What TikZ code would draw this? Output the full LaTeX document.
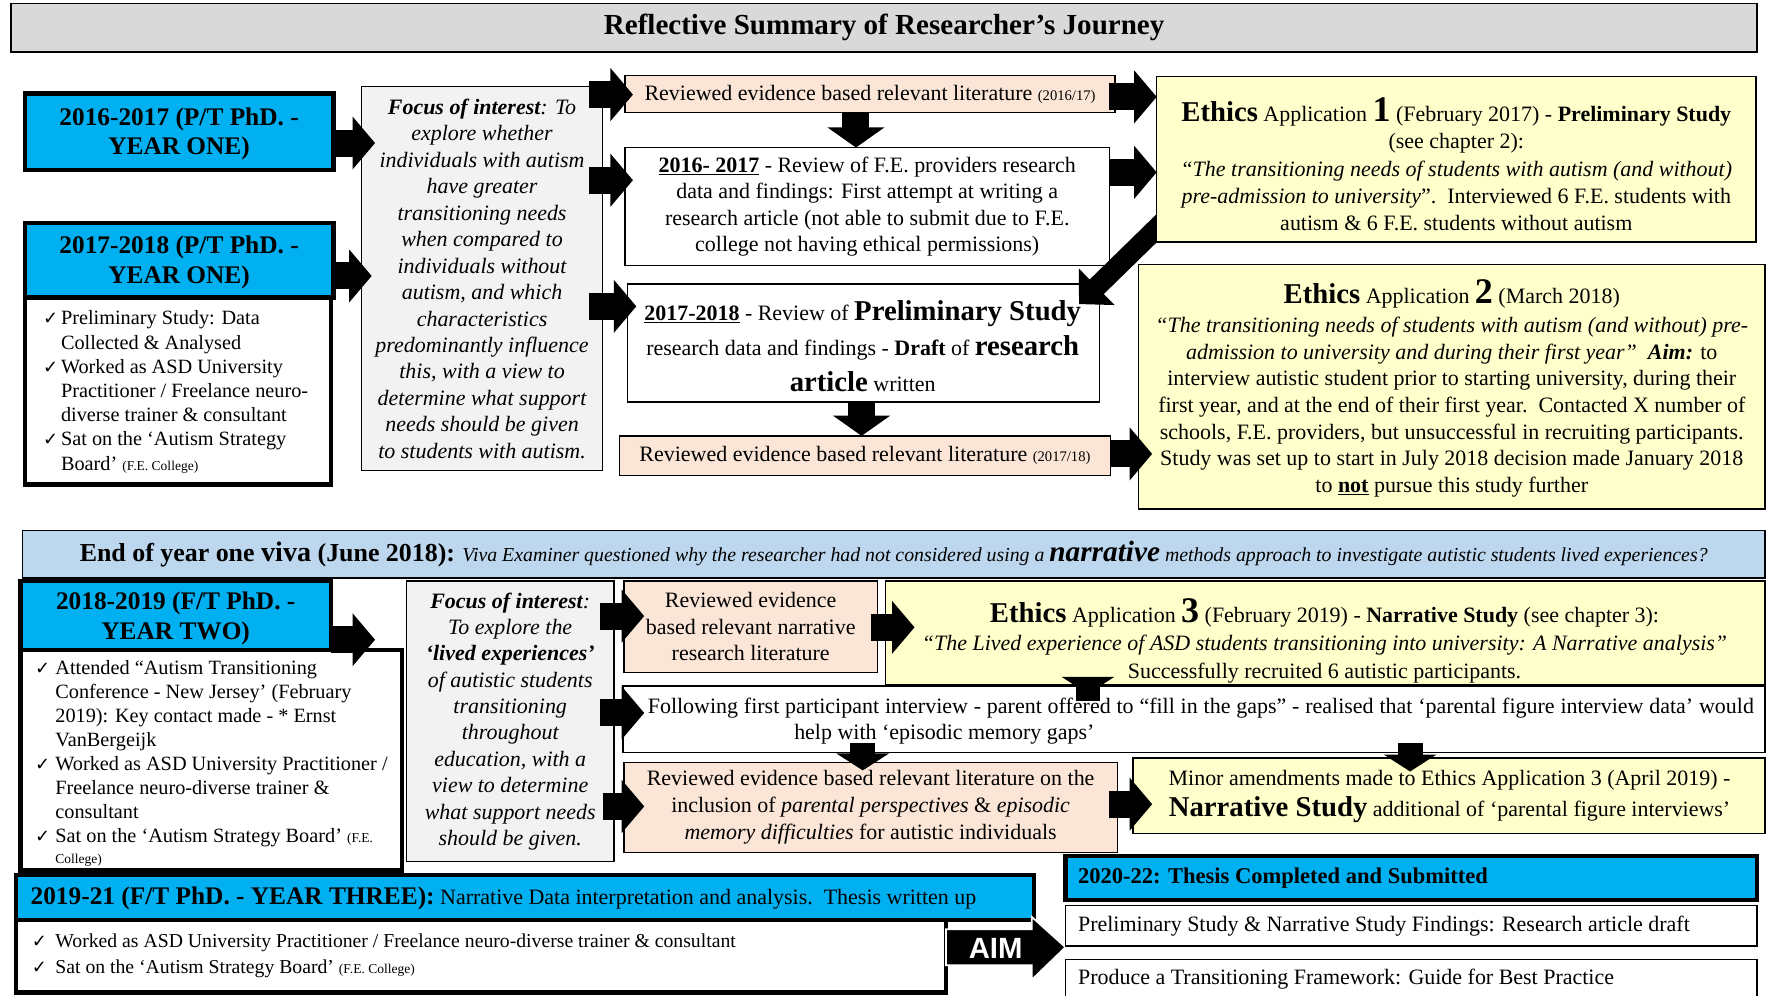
\documentclass[tikz,border=0pt]{standalone}
\usepackage{fontspec}
\setmainfont{Liberation Serif}
\newfontfamily\dejavu{DejaVu Sans}
\newfontfamily\aimfont{Liberation Sans}
\usetikzlibrary{arrows.meta}
\definecolor{cyanC}{HTML}{00B0F0}
\definecolor{peach}{HTML}{FBE5D6}
\definecolor{yell}{HTML}{FFFFCC}
\definecolor{vivaBlue}{HTML}{BDD7EE}
\definecolor{titleGray}{HTML}{D9D9D9}
\definecolor{focGray}{HTML}{F2F2F2}
\newcommand{\fsz}[2]{\fontsize{#1}{#2}\selectfont}
\newcommand{\ckm}[1]{\makebox[#1][l]{{\dejavu\fontsize{16}{16}\selectfont ✓}}}
\newcommand{\bfbig}{\bfseries\fsz{25.5}{26}}
\newcommand{\bfhuge}{\bfseries\fsz{32}{30}}
\begin{document}
\begin{tikzpicture}[x=1pt,y=-1pt,
  box/.style={draw=black, line width=1.2pt, anchor=north west, inner sep=0pt, outer sep=0pt, align=center, font=\fsz{19.5}{23.4}},
  yearbox/.style={box, fill=cyanC, line width=4pt, font=\bfseries\fsz{22.5}{26}},
  listbox/.style={box, fill=white, line width=4pt},
  focbox/.style={box, fill=focGray, font=\itshape\fsz{19.5}{23.5}},
  litbox/.style={box, fill=peach},
  ethbox/.style={box, fill=yell},
  plainbox/.style={box, fill=white},
  txt/.style={anchor=west, inner sep=0pt, align=left, font=\fsz{19.5}{23.4}},
  ctxt/.style={inner sep=0pt, align=center, font=\fsz{19.5}{23.4}},
  barrow/.style={draw=black, line width=24pt, -{Triangle[length=20pt,width=46pt]}},
  vbarrow/.style={draw=black, line width=24pt, -{Triangle[length=18pt,width=50pt]}},
  sbarrow/.style={draw=black, line width=22pt, -{Triangle[length=15pt,width=46pt]}},
  dbarrow/.style={draw=black, line width=18pt, -{Triangle[length=22pt,width=44pt]}}
]
\useasboundingbox (0,0) rectangle (1568,884);
\fill[white] (0,0) rectangle (1568,884);

% title
\node[box, fill=titleGray, line width=1.5pt, minimum width=1550pt, minimum height=43pt, font=\bfseries\fsz{25.8}{26}] (title) at (10,3) {Reflective Summary of Researcher’s Journey};

% ---------- row 1 ----------
\node[yearbox, minimum width=274pt, minimum height=68pt] (yA) at (22,83) {};
\node[ctxt, font=\bfseries\fsz{22.5}{26}] (yAt) at (159,119) {2016-2017 (P/T PhD. -\\YEAR ONE)};
\node[yearbox, minimum width=274pt, minimum height=66pt] (yB) at (22,198) {};
\node[ctxt, font=\bfseries\fsz{22.5}{26}] (yBt) at (159,233) {2017-2018 (P/T PhD. -\\YEAR ONE)};
\node[listbox, minimum width=272pt, minimum height=166pt] (listB) at (22,264) {};
\node[txt, font=\fsz{18}{21.5}] (listBt) at (38,348) {\ckm{16pt}Preliminary Study: Data\\
\hspace*{16pt}Collected \& Analysed\\
\ckm{16pt}Worked as ASD University\\
\hspace*{16pt}Practitioner / Freelance neuro-\\
\hspace*{16pt}diverse trainer \& consultant\\
\ckm{16pt}Sat on the ‘Autism Strategy\\
\hspace*{16pt}Board’ {\fsz{12}{14}(F.E. College)}};

\node[focbox, minimum width=214pt, minimum height=341pt] (focus1) at (321,77) {\textbf{Focus of interest}: To\\explore whether\\individuals with autism\\have greater\\transitioning needs\\when compared to\\individuals without\\autism, and which\\characteristics\\predominantly influence\\this, with a view to\\determine what support\\needs should be given\\to students with autism.};

\node[litbox, minimum width=435pt, minimum height=33pt] (lit1) at (555,67) {Reviewed evidence based relevant literature {\fsz{13}{14}(2016/17)}};
\node[plainbox, minimum width=430pt, minimum height=105pt] (rev1) at (555,131) {\underline{\textbf{2016- 2017}} - Review of F.E. providers research\\data and findings: First attempt at writing a\\research article (not able to submit due to F.E.\\college not having ethical permissions)};
\node[plainbox, minimum width=419pt, minimum height=105pt, font=\fsz{19.5}{31}] (rev2) at (557,252) {};
\node[ctxt, font=\fsz{19.5}{31.5}] (rev2t) at (766,307) {\underline{\textbf{2017-2018}} - Review of {\bfbig Preliminary Study}\\research data and findings - \textbf{Draft} of {\bfbig research}\\{\bfbig article} written};
\node[litbox, minimum width=436pt, minimum height=35pt] (lit2) at (550,387) {Reviewed evidence based relevant literature {\fsz{13}{14}(2017/18)}};

\coordinate (dtail) at (1045,185);
\draw[dbarrow] (dtail) -- ([shift={(-18,18)}]rev2.north east);

\node[ethbox, minimum width=532pt, minimum height=147pt] (eth1) at (1027,68) {};
\node[ctxt, font=\fsz{19.5}{24.3}] (eth1t) at (1293,146) {{\bfbig Ethics} Application {\bfhuge 1} (February 2017) - \textbf{Preliminary Study}\\(see chapter 2):\\\textit{“The transitioning needs of students with autism (and without)}\\\textit{pre-admission to university}”.\ \ Interviewed 6 F.E. students with\\autism \& 6 F.E. students without autism};

\node[ethbox, minimum width=556pt, minimum height=217pt] (eth2) at (1011,235) {};
\node[ctxt, font=\fsz{19.5}{23.6}] (eth2t) at (1289,345) {{\bfbig Ethics} Application {\bfhuge 2} (March 2018)\\[2pt]\textit{“The transitioning needs of students with autism (and without) pre-}\\\textit{admission to university and during their first year”}\ \ \textbf{\textit{Aim:}} to\\interview autistic student prior to starting university, during their\\first year, and at the end of their first year.\ \ Contacted X number of\\schools, F.E. providers, but unsuccessful in recruiting participants.\\Study was set up to start in July 2018 decision made January 2018\\to \underline{\textbf{not}} pursue this study further};

% ---------- viva ----------
\node[box, fill=vivaBlue, line width=1.5pt, minimum width=1547pt, minimum height=42pt] (viva) at (20,471) {{\bfseries\fsz{23}{24}End of year one {\fsz{25}{24}viva} (June 2018):} {\itshape\fsz{17.6}{20}Viva Examiner questioned why the researcher had not considered using a {\bfseries\fsz{26}{26}narrative} methods approach to investigate autistic students lived experiences?}};

% ---------- row 2 ----------
\node[yearbox, minimum width=276pt, minimum height=61pt] (yC) at (18,516) {};
\node[ctxt, font=\bfseries\fsz{22.5}{26}] (yCt) at (156,549) {2018-2019 (F/T PhD. -\\YEAR TWO)};
\node[listbox, minimum width=339pt, minimum height=196pt] (listC) at (18,577) {};
\node[txt, font=\fsz{18}{21.3}] (listCt) at (31,678) {\ckm{18pt}Attended “Autism Transitioning\\
\hspace*{18pt}Conference - New Jersey’ (February\\
\hspace*{18pt}2019): Key contact made - * Ernst\\
\hspace*{18pt}VanBergeijk\\
\ckm{18pt}Worked as ASD University Practitioner /\\
\hspace*{18pt}Freelance neuro-diverse trainer \&\\
\hspace*{18pt}consultant\\
\ckm{18pt}Sat on the ‘Autism Strategy Board’ {\fsz{12}{14}(F.E.}\\[-3pt]
\hspace*{18pt}{\fsz{12}{14}College)}};

\node[focbox, minimum width=184pt, minimum height=249pt, font=\itshape\fsz{19.5}{23.4}] (focus2) at (361,516) {\textbf{Focus of interest}:\\To explore the\\\textbf{‘lived experiences’}\\of autistic students\\transitioning\\throughout\\education, with a\\view to determine\\what support needs\\should be given.};

\node[litbox, minimum width=225pt, minimum height=81pt] (lit3) at (554,516) {Reviewed evidence\\based relevant narrative\\research literature};
\node[ethbox, minimum width=781pt, minimum height=92pt] (eth3) at (786,516) {};
\node[ctxt, font=\fsz{19.5}{25}] (eth3t) at (1176,569) {{\bfbig Ethics} Application {\bfhuge 3} (February 2019) - \textbf{Narrative Study} (see chapter 3):\\\textit{“The Lived experience of ASD students transitioning into university: A Narrative analysis”}\\Successfully recruited 6 autistic participants.};
\node[plainbox, minimum width=1014pt, minimum height=59pt] (follow) at (553,609) {};
\node[txt] (followt) at (575,640) {\makebox[982pt][s]{Following first participant interview - parent offered to “fill in the gaps” - realised that ‘parental figure interview data’ would}\\\hspace*{130pt}help with ‘episodic memory gaps’};
\node[litbox, minimum width=438pt, minimum height=80pt, font=\fsz{19.5}{23.8}] (lit4) at (554,677) {Reviewed evidence based relevant literature on the\\inclusion of \textit{parental perspectives} \& \textit{episodic}\\\textit{memory difficulties} for autistic individuals};
\node[ethbox, minimum width=561pt, minimum height=67pt] (minor) at (1006,673) {};
\node[ctxt, font=\fsz{19.5}{28}] (minort) at (1287,707) {Minor amendments made to Ethics Application 3 (April 2019) -\\{\bfbig Narrative Study} additional of ‘parental figure interviews’};

% ---------- row 3 ----------
\node[yearbox, minimum width=904pt, minimum height=40pt] (y3) at (14,777) {};
\node[txt] (y3t) at (27,798) {{\bfseries\fsz{22.5}{26}2019-21 (F/T PhD. - YEAR THREE):} {\fsz{19.5}{24}Narrative Data interpretation and analysis.\ \ Thesis written up}};
\node[listbox, minimum width=826pt, minimum height=64pt] (list3) at (14,817) {};
\node[txt, font=\fsz{17.5}{23}] (list3t) at (28,849) {\ckm{21pt}Worked as ASD University Practitioner / Freelance neuro-diverse trainer \& consultant\\
\ckm{21pt}Sat on the ‘Autism Strategy Board’ {\fsz{12}{14}(F.E. College)}};

\fill[black, draw=white, line width=1.5pt] (list3.east |- 0,825) -- (916,825) -- (916,814) -- (946,841) -- (916,870) -- (916,857) -- (list3.east |- 0,857) -- cycle;
\node[font=\aimfont\bfseries\fsz{26}{26}, text=white, inner sep=0pt] (aim) at (884,842) {AIM};

\node[yearbox, minimum width=614pt, minimum height=39pt] (thesis) at (946,760) {};
\node[txt, font=\bfseries\fsz{20}{24}] (thesist) at (957,780) {2020-22: Thesis Completed and Submitted};
\node[plainbox, minimum width=614pt, minimum height=36pt] (out1) at (946,804) {};
\node[txt] (out1t) at (957,822) {Preliminary Study \& Narrative Study Findings: Research article draft};
\node[plainbox, minimum width=614pt, minimum height=36pt] (out2) at (946,852) {};
\node[txt] (out2t) at (957,869) {Produce a Transitioning Framework: Guide for Best Practice};

% ---------- block arrows ----------
\draw[barrow, shorten >=-12pt] (yA.east |- 0,127) -- (focus1.west |- 0,127);
\draw[barrow, shorten >=-9pt] (yB.east |- 0,245) -- (focus1.west |- 0,245);
\draw[barrow, shorten <=-12pt, shorten >=-7pt] (focus1.east |- 0,84) -- (lit1.west |- 0,84);
\draw[barrow, shorten <=-12pt, shorten >=-7pt] (focus1.east |- 0,160) -- (rev1.west |- 0,160);
\draw[barrow, shorten <=-12pt, shorten >=-8pt] (focus1.east |- 0,272) -- (rev2.west |- 0,272);
\draw[vbarrow] (lit1.south -| 760,0) -- (rev1.north -| 760,0);
\draw[vbarrow] (rev2.south -| 765,0) -- (lit2.north -| 765,0);
\draw[barrow, shorten <=-5pt] (lit1.east |- 0,86) -- (eth1.west |- 0,86);
\draw[barrow] (rev1.east |- 0,153) -- (eth1.west |- 0,153);
\draw[barrow, shorten >=-12pt] (lit2.east |- 0,403) -- (eth2.west |- 0,403);

\draw[barrow, shorten >=28pt] (yC.east |- 0,568) -- (focus2.west |- 0,568);
\draw[barrow, shorten <=-12pt, shorten >=-18pt] (focus2.east |- 0,547) -- (lit3.west |- 0,547);
\draw[barrow, shorten <=-12pt, shorten >=-19pt] (focus2.east |- 0,633) -- (follow.west |- 0,633);
\draw[barrow, shorten <=-10pt, shorten >=-18pt] (focus2.east |- 0,716) -- (lit4.west |- 0,716);
\draw[barrow, shorten <=-6pt, shorten >=-26pt] (lit3.east |- 0,557) -- (eth3.west |- 0,557);
\draw[sbarrow, shorten <=-14pt, shorten >=-7pt] (eth3.south -| 966,0) -- (follow.north -| 966,0);
\draw[sbarrow, shorten <=-8pt, shorten >=-7pt] (follow.south -| 766,0) -- (lit4.north -| 766,0);
\draw[sbarrow, shorten <=-8pt, shorten >=-12pt] (follow.south -| 1252,0) -- (minor.north -| 1252,0);
\draw[barrow, shorten <=-7pt, shorten >=-17pt] (lit4.east |- 0,714) -- (minor.west |- 0,714);
\end{tikzpicture}
\end{document}
